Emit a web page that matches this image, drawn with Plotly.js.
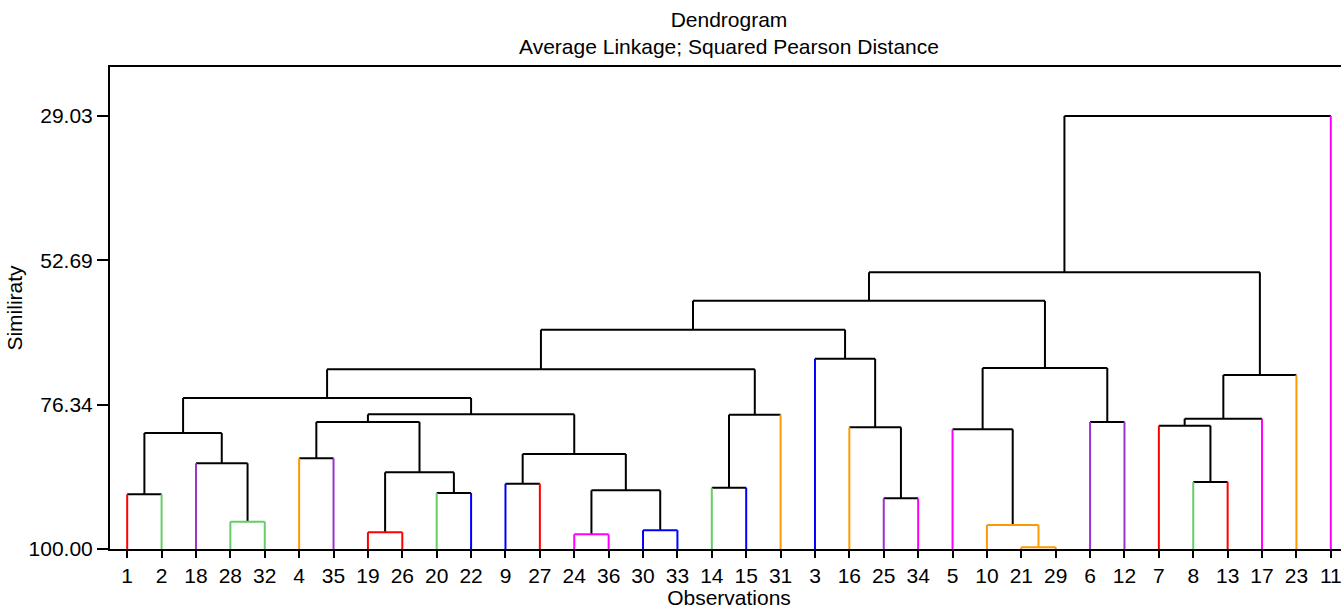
<!DOCTYPE html>
<html>
<head>
<meta charset="utf-8">
<script src="https://cdn.plot.ly/plotly-3.0.1.min.js"></script>
<style>
html,body{margin:0;padding:0;overflow:hidden;background:#fff;}
#chart{width:1350px;height:609px;}
</style>
</head>
<body>
<div id="chart"></div>
<script>
// Leaf order (as drawn left to right) and leaf branch colours
const leafLabels = ['1','2','18','28','32','4','35','19','26','20','22','9','27','24','36','30','33','14','15','31','3','16','25','34','5','10','21','29','6','12','7','8','13','17','23','11'];
const leafColors = ['red','green','purple','green','green','orange','purple','red','red','green','blue','blue','red','magenta','magenta','blue','blue','green','blue','orange','blue','orange','purple','magenta','magenta','orange','orange','orange','purple','purple','red','green','red','magenta','orange','magenta'];

// Merges: 'oN' = observation N, 'cK' = result of merge K
const mergeLeft  = ['o21','o24','o19','o30','o10','o28','o25','o1','o20','c1','o14','o9','o8','c2','o18','o4','c11','c7','o5','o16','o7','c15','o6','c20','c21','c10','c17','c23','c26','c18','o3','c28','c31','c32','c33'];
const mergeRight = ['o29','o36','o26','o33','c0','o32','o34','o2','o22','c3','o15','o27','o13','c8','c5','o35','c9','c14','c4','c6','c12','c13','o12','o17','c16','o31','c24','o23','c25','c22','c19','c30','c29','c27','o11'];
const mergeSim   = [99.72, 97.59, 97.26, 96.93, 96.07, 95.52, 91.69, 91.03, 90.82, 90.38, 89.95, 89.30, 89.02, 87.43, 85.95, 85.13, 84.43, 80.99, 80.38, 80.05, 79.79, 79.18, 79.18, 78.64, 77.93, 77.98, 75.25, 71.48, 70.55, 70.33, 68.81, 64.06, 59.33, 54.65, 29.03];
const mergeColor = ['orange','magenta','red','blue','orange','green','black','black','black','black','black','black','black','black','black','black','black','black','black','black','black','black','black','black','black','black','black','black','black','black','black','black','black','black','black'];

const yTickVals = [29.03, 52.69, 76.34, 100.00];
const yTickText = ['29.03', '52.69', '76.34', '100.00'];

const palette = {red:'#FF0000', green:'#66CC66', purple:'#9933CC', orange:'#FF9900', blue:'#0000FF', magenta:'#FF00FF', black:'#000000'};

// Build node positions
const nodeX = {}, nodeY = {}, nodeIsLeaf = {}, nodeLeafColor = {};
leafLabels.forEach((lab, i) => {
  nodeX['o' + lab] = i; nodeY['o' + lab] = 100; nodeIsLeaf['o' + lab] = true; nodeLeafColor['o' + lab] = leafColors[i];
});
const segs = {}; // color -> {x:[], y:[]}
function addSeg(color, xs, ys) {
  if (!segs[color]) segs[color] = {x: [], y: []};
  segs[color].x.push(...xs, null);
  segs[color].y.push(...ys, null);
}
for (let k = 0; k < mergeSim.length; k++) {
  const a = mergeLeft[k], b = mergeRight[k], s = mergeSim[k], c = mergeColor[k];
  const xa = nodeX[a], ya = nodeY[a], xb = nodeX[b], yb = nodeY[b];
  const ca = nodeIsLeaf[a] ? nodeLeafColor[a] : c;
  const cb = nodeIsLeaf[b] ? nodeLeafColor[b] : c;
  addSeg(ca, [xa, xa], [ya, s]);
  addSeg(cb, [xb, xb], [yb, s]);
  addSeg(c, [xa, xb], [s, s]);
  nodeX['c' + k] = (xa + xb) / 2; nodeY['c' + k] = s;
}

const order = ['black','red','green','purple','orange','blue','magenta'];
const traces = order.filter(c => segs[c]).map(c => ({
  type: 'scatter', mode: 'lines', x: segs[c].x, y: segs[c].y,
  line: {color: palette[c], width: 2}, hoverinfo: 'skip', showlegend: false, connectgaps: false
}));

const fontFam = 'Liberation Sans, Arial, sans-serif';
const layout = {
  width: 1350, height: 609,
  margin: {l: 110, r: 2, t: 67, b: 60},
  paper_bgcolor: '#fff', plot_bgcolor: '#fff',
  font: {family: fontFam, size: 21, color: '#000'},
  title: {
    text: 'Dendrogram<br>Average Linkage; Squared Pearson Distance',
    x: 0.5, xref: 'paper', y: 1 - 26.5 / 609, yref: 'container', yanchor: 'middle',
    font: {family: fontFam, size: 21, color: '#000'}
  },
  xaxis: {
    range: [-0.5, 35.5], tickmode: 'array',
    tickvals: leafLabels.map((_, i) => i), ticktext: leafLabels,
    ticks: 'outside', ticklen: 7, tickwidth: 2, tickcolor: '#000',
    showline: true, linewidth: 2, linecolor: '#000', mirror: true,
    showgrid: false, zeroline: false,
    tickfont: {family: fontFam, size: 21, color: '#000'},
    title: {text: 'Observations', font: {family: fontFam, size: 21, color: '#000'}, standoff: 5}
  },
  yaxis: {
    range: [100, 21.0], tickmode: 'array', tickvals: yTickVals, ticktext: yTickText,
    ticks: 'outside', ticklen: 11, tickwidth: 2, tickcolor: '#000',
    showline: true, linewidth: 2, linecolor: '#000', mirror: true,
    showgrid: false, zeroline: false,
    tickfont: {family: fontFam, size: 21, color: '#000'},
    title: {text: 'Similiraty', font: {family: fontFam, size: 21, color: '#000'}, standoff: 0}
  }
};
Plotly.newPlot('chart', traces, layout, {displayModeBar: false, staticPlot: true});
</script>
</body>
</html>
